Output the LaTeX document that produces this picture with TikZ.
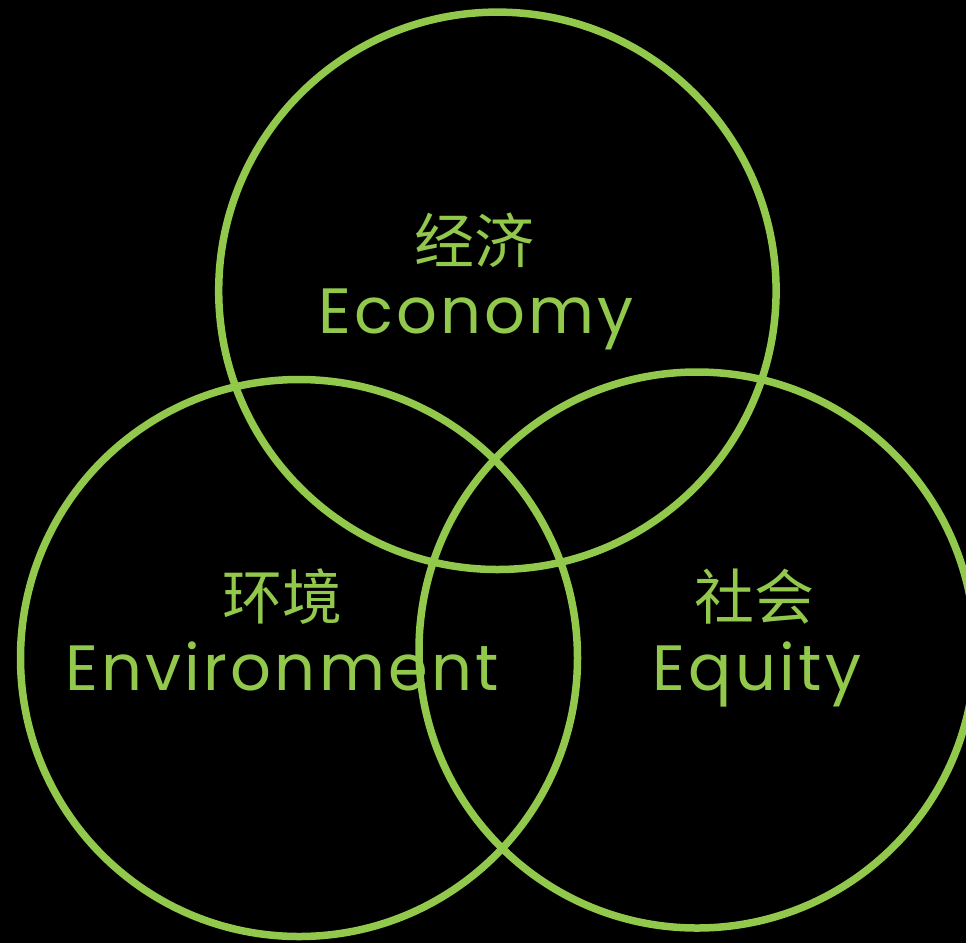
\documentclass[tikz,border=0pt]{standalone}
\usepackage{fontspec}
\setmainfont{Poppins}[LetterSpace=5]
\newfontfamily\cjk{Noto Sans CJK SC}
\definecolor{leaf}{RGB}{146,200,76}
\begin{document}
\begin{tikzpicture}[x=1pt,y=-1pt,
  ring/.style={draw=leaf,line width=7.5pt},
  cn/.style={text=leaf,inner sep=0pt,anchor=center,font=\cjk\fontsize{60}{60}\selectfont},
  en/.style={text=leaf,inner sep=0pt,anchor=base,font=\fontsize{64}{64}\selectfont}]
\fill[black] (0,0) rectangle (966,943);
\useasboundingbox (0,0) rectangle (966,943);
\begin{scope}
\clip (0,0) rectangle (966,943);
\draw[ring] (497.4,290.8) circle[radius=278.7];
\draw[ring] (299,658) circle[radius=278.5];
\draw[ring] (697,650) circle[radius=278];
\end{scope}
\node[cn] (econcn) at (474,240) {经济};
\node[en] (econ) at (476,333) {Economy};
\node[cn] (envcn) at (282,597) {环境};
\node[en] (env) at (282,690) {Environment};
\node[cn] (eqcn) at (754,597) {社会};
\node[en] (eq) at (757,690) {Equity};
\end{tikzpicture}
\end{document}
